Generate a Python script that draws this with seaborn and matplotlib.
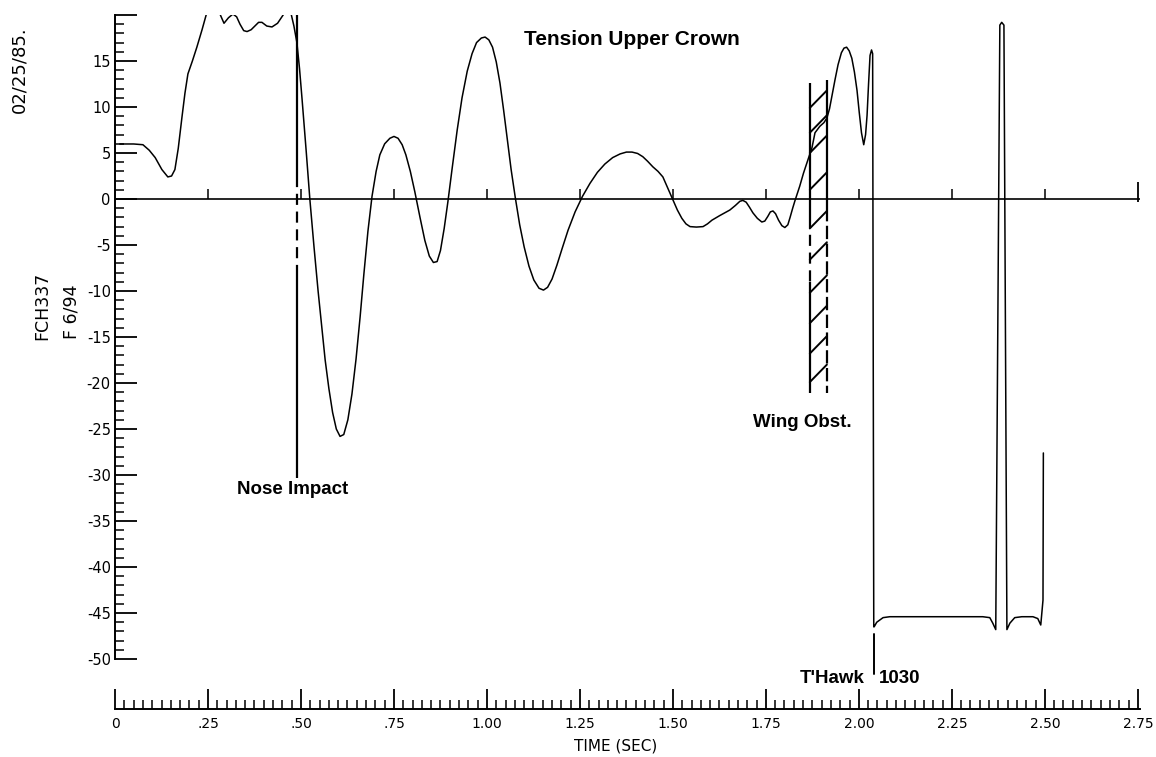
import pandas as pd
import seaborn as sns
import matplotlib.pyplot as plt
import numpy as np

# data (time in sec, tension)
time = [0.013, 0.050, 0.075, 0.092, 0.108, 0.126, 0.142, 0.152, 0.161, 0.170,
        0.180, 0.188, 0.196, 0.208, 0.220, 0.234, 0.245, 0.255, 0.272, 0.280,
        0.293, 0.305, 0.317, 0.327, 0.336, 0.346, 0.355, 0.366, 0.376, 0.386,
        0.395, 0.408, 0.422, 0.437, 0.452, 0.462, 0.473, 0.481, 0.489, 0.496,
        0.503, 0.514, 0.524, 0.535, 0.546, 0.556, 0.565, 0.575, 0.585, 0.595,
        0.605, 0.615, 0.626, 0.637, 0.648, 0.659, 0.669, 0.680, 0.691, 0.702,
        0.712, 0.725, 0.739, 0.750, 0.761, 0.772, 0.782, 0.794, 0.806, 0.820,
        0.833, 0.845, 0.856, 0.866, 0.875, 0.885, 0.895, 0.906, 0.920, 0.933,
        0.947, 0.960, 0.972, 0.985, 0.995, 1.005, 1.015, 1.025, 1.035, 1.045,
        1.055, 1.065, 1.076, 1.088, 1.100, 1.113, 1.126, 1.140, 1.152, 1.163,
        1.175, 1.188, 1.202, 1.218, 1.237, 1.257, 1.277, 1.297, 1.317, 1.338,
        1.358, 1.375, 1.390, 1.405, 1.419, 1.432, 1.446, 1.460, 1.473, 1.487,
        1.500, 1.512, 1.524, 1.535, 1.546, 1.563, 1.581, 1.593, 1.605, 1.626,
        1.653, 1.668, 1.680, 1.688, 1.697, 1.706, 1.715, 1.727, 1.739, 1.747,
        1.755, 1.762, 1.769, 1.776, 1.784, 1.793, 1.801, 1.809, 1.815, 1.822,
        1.828, 1.841, 1.851, 1.860, 1.868, 1.874, 1.882, 1.895, 1.906, 1.914,
        1.921, 1.927, 1.936, 1.944, 1.953, 1.960, 1.967, 1.974, 1.981, 1.988,
        1.995, 2.001, 2.007, 2.013, 2.018, 2.022, 2.026, 2.030, 2.034, 2.037,
        2.040, 2.041, 2.048, 2.065, 2.083, 2.333, 2.352, 2.360, 2.368, 2.379,
        2.384, 2.390, 2.398, 2.406, 2.419, 2.438, 2.468, 2.481, 2.489, 2.495,
        2.496]
tension = [5.98, 5.98, 5.9, 5.3, 4.5, 3.2, 2.4, 2.5, 3.2, 5.5,
           8.9, 11.5, 13.6, 15.0, 16.5, 18.4, 20.0, 21.5, 21.5, 20.3,
           19.1, 19.7, 20.1, 19.8, 19.0, 18.3, 18.2, 18.4, 18.8, 19.2,
           19.2, 18.8, 18.7, 19.1, 20.0, 21.5, 20.2, 18.8, 17.0, 14.2,
           10.8, 5.2, -0.1, -5.2, -10.0, -14.0, -17.5, -20.6, -23.2, -25.0,
           -25.8, -25.6, -24.0, -21.2, -17.4, -12.8, -8.2, -3.5, 0.3, 3.0,
           4.8, 6.0, 6.6, 6.8, 6.6, 5.9, 4.8, 3.0, 0.8, -2.0,
           -4.5, -6.2, -6.9, -6.8, -5.6, -3.2, -0.3, 3.2, 7.5, 11.0,
           13.9, 15.8, 17.0, 17.5, 17.6, 17.3, 16.5, 14.9, 12.6, 9.6,
           6.4, 3.2, 0.2, -2.8, -5.2, -7.3, -8.8, -9.7, -9.9, -9.6,
           -8.7, -7.2, -5.4, -3.4, -1.4, 0.3, 1.7, 2.9, 3.8, 4.5,
           4.9, 5.1, 5.1, 4.95, 4.6, 4.1, 3.5, 3.0, 2.4, 1.1,
           -0.1, -1.2, -2.1, -2.7, -3.0, -3.05, -3.0, -2.7, -2.3, -1.8,
           -1.2, -0.7, -0.25, -0.15, -0.35, -0.9, -1.5, -2.1, -2.5, -2.4,
           -1.9, -1.4, -1.3, -1.6, -2.3, -2.9, -3.1, -2.8, -2.0, -1.0,
           -0.2, 1.4, 2.8, 3.9, 4.9, 5.6, 7.2, 7.9, 8.3, 8.8,
           9.8, 11.1, 13.0, 14.6, 15.9, 16.4, 16.5, 16.1, 15.3, 13.8,
           11.8, 9.4, 7.2, 5.9, 7.0, 9.1, 12.5, 15.6, 16.2, 15.8,
           -46.5, -46.5, -46.0, -45.5, -45.4, -45.4, -45.5, -46.1, -46.8, 18.9,
           19.2, 18.9, -46.8, -46.1, -45.5, -45.4, -45.4, -45.6, -46.3, -43.6,
           -27.6]

yticks_major = list(range(-50, 21, 5))
ytick_labels = [str(v) for v in range(-50, 16, 5)] + ['']
xticks_major = [0, 0.25, 0.5, 0.75, 1.0, 1.25, 1.5, 1.75, 2.0, 2.25, 2.5, 2.75]
xtick_labels = ['0', '.25', '.50', '.75', '1.00', '1.25', '1.50', '1.75',
                '2.00', '2.25', '2.50', '2.75']

nose_t = 0.489
wing_left, wing_right = 1.868, 1.914
hatch_levels = [9.9, 7.2, 5.0, 1.0, -3.2, -6.6, -10.2, -13.5, -16.8, -19.9]
thawk_t = 2.040

df = pd.DataFrame({'time': time, 'tension': tension})

sns.set_theme(style='ticks')
plt.rcParams['font.family'] = 'DejaVu Sans'

fig = plt.figure(figsize=(11.56, 7.57), dpi=100)
ax = fig.add_axes([0.0995, 0.0634, 0.888, 0.9168])

sns.lineplot(data=df, x='time', y='tension', estimator=None, sort=False,
             color='black', linewidth=1.1, ax=ax)

ax.set_xlim(0, 2.76)
ax.set_ylim(-55.43, 20)

# axes look
for s in ['top', 'right']:
    ax.spines[s].set_visible(False)
ax.spines['left'].set_bounds(-50, 20)
ax.spines['bottom'].set_bounds(0, 2.755)
for s in ['left', 'bottom']:
    ax.spines[s].set_color('black')
    ax.spines[s].set_linewidth(1.4)

ax.set_yticks(yticks_major, ytick_labels)
ax.set_yticks(np.arange(-50, 21, 1), minor=True)
ax.set_xticks(xticks_major, xtick_labels)
ax.set_xticks(np.arange(0, 2.751, 0.025), minor=True)
ax.tick_params(axis='both', which='both', left=True, bottom=True, direction='in',
               color='black')
ax.tick_params(axis='both', which='major', width=1.3, labelsize=10.5,
               labelcolor='black')
ax.tick_params(axis='both', which='minor', width=1.1, length=6.5)
ax.tick_params(axis='y', which='major', length=16, pad=3)
ax.tick_params(axis='x', which='major', length=14.4, pad=6, labelsize=10)

ax.set_xlabel('TIME (SEC)', fontsize=11, color='black')
ax.xaxis.set_label_coords(0.488, -0.043)
ax.set_ylabel('')

# zero line with its ticks
ax.hlines(0, 0, 2.755, color='black', linewidth=1.2)
ax.vlines(xticks_major[1:-1], 0, 1.1, color='black', linewidth=1.1)
ax.vlines(2.75, -0.3, 1.8, color='black', linewidth=1.3)

# nose impact marker
ax.vlines(nose_t, 2.5, 20, color='black', linewidth=1.6)
ax.plot([nose_t, nose_t], [2.5, -7.5], color='black', linewidth=1.6, ls=(0, (5, 3)))
ax.vlines(nose_t, -30.3, -7.5, color='black', linewidth=1.6)

# wing obstruction band
ax.vlines(wing_left, -2, 12.6, color='black', linewidth=1.6)
ax.plot([wing_left, wing_left], [-2, -9], color='black', linewidth=1.6, ls=(0, (5, 3)))
ax.vlines(wing_left, -21.1, -9, color='black', linewidth=1.6)
ax.vlines(wing_right, -1, 12.9, color='black', linewidth=1.6)
ax.plot([wing_right, wing_right], [-1, -21.1], color='black', linewidth=1.6, ls=(0, (6, 2)))
for h in hatch_levels:
    ax.plot([wing_left, wing_right], [h, h + 1.9], color='black', linewidth=1.4)

# T'Hawk marker
ax.plot([thawk_t, thawk_t], [-47.3, -51.6], color='black', linewidth=1.4, clip_on=False)

bold = dict(family='Liberation Sans', fontweight='bold', color='black')
ax.text(1.39, 17.3, 'Tension Upper Crown', fontsize=15, ha='center', va='center', **bold)
ax.text(0.478, -31.6, 'Nose Impact', fontsize=13.5, ha='center', va='center', **bold)
ax.text(1.847, -24.3, 'Wing Obst.', fontsize=13.5, ha='center', va='center', **bold)
ax.text(2.016, -52.1, "T'Hawk", fontsize=13.5, ha='right', va='center', **bold)
ax.text(2.054, -52.1, '1030', fontsize=13.5, ha='left', va='center', **bold)

# side notes
fig.text(19 / 1156, 1 - 70 / 757, '02/25/85.', rotation=90, fontsize=13,
         ha='center', va='center', color='black')
fig.text(42 / 1156, 1 - 306 / 757, 'FCH337', rotation=90, fontsize=12.5,
         ha='center', va='center', color='black')
fig.text(72 / 1156, 1 - 312 / 757, 'F 6/94', rotation=90, fontsize=12.5,
         ha='center', va='center', color='black')

fig.savefig('out.png', dpi=100, facecolor='white')
plt.close(fig)
